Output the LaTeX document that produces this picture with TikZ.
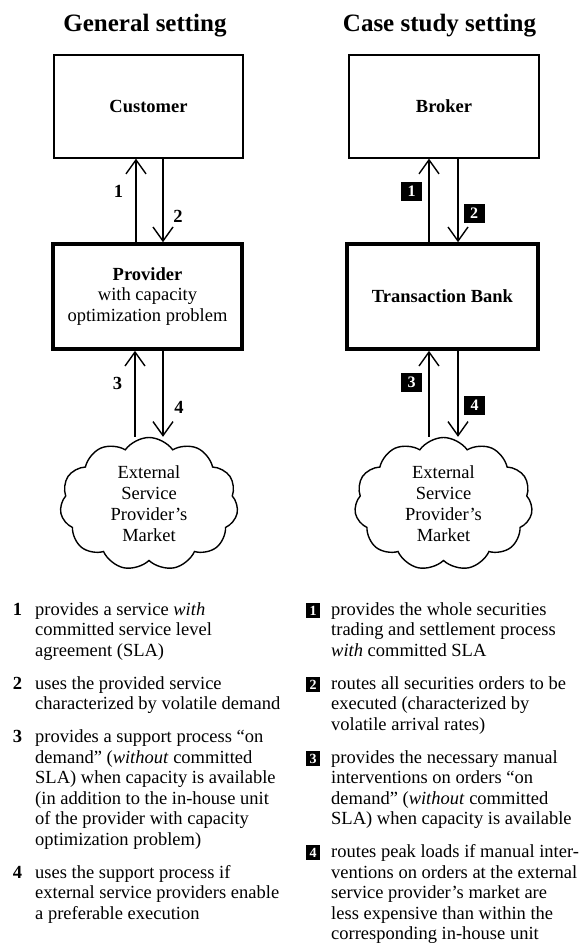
\documentclass[tikz,border=0pt]{standalone}
\usepackage{fontspec}
\setmainfont{Liberation Serif}
\usetikzlibrary{arrows.meta,shapes.symbols}
\newcommand{\bodyfont}{\fontsize{18.5}{20.5}\selectfont}
\newcommand{\headfont}{\fontsize{25}{30}\selectfont\bfseries}

\begin{document}
\begin{tikzpicture}[x=1pt,y=-1pt,
  unitbox/.style={draw,line width=1.3pt,inner sep=0pt,align=center,font=\bodyfont},
  focusbox/.style={unitbox,line width=3.6pt},
  market/.style={draw,line width=1.4pt,cloud,cloud puffs=11,cloud puff arc=110,aspect=1.35,
    minimum width=178pt,minimum height=133pt,inner sep=0pt,align=center,
    font=\fontsize{18.5}{21}\selectfont},
  flow/.style={line width=1.4pt,-{Straight Barb[length=14pt,width=20pt]}},
  num/.style={font=\bodyfont\bfseries,inner sep=0pt},
  tag/.style={fill=black,text=white,font=\fontsize{16}{16}\selectfont\bfseries,
    inner sep=0pt,minimum width=21pt,minimum height=19pt},
  smalltag/.style={tag,font=\fontsize{14}{14}\selectfont\bfseries,minimum width=14pt,minimum height=15pt},
  legtext/.style={anchor=base west,align=left,inner sep=0pt,font=\bodyfont}]
%\draw[help lines] (0,0) grid[step=50] (585,951);
\useasboundingbox (0,0) rectangle (585,951);

\node[font=\headfont,anchor=base] (headL) at (145,31) {General setting};
\node[font=\headfont,anchor=base] (headR) at (439.5,31) {Case study setting};

% general setting
\node[unitbox,minimum width=189pt,minimum height=103pt] (cust) at (148.5,106.5) {\textbf{Customer}};
\node[focusbox,minimum width=189pt,minimum height=105pt] (prov) at (147.5,296.5)
  {\textbf{Provider}\\with capacity\\optimization problem};
\node[market] (mktL) at (149,504) {External\\Service\\Provider’s\\Market};
\draw[flow] (prov.north -| 136,0) -- (cust.south -| 136,0);
\draw[flow] (cust.south -| 163,0) -- (prov.north -| 163,0);
\draw[flow] (mktL.north -| 135,0) -- (prov.south -| 135,0);
\draw[flow] (prov.south -| 163,0) -- (mktL.north -| 163,0);
\node[num] (lab1L) at (118.5,191) {1};
\node[num] (lab2L) at (178,216) {2};
\node[num] (lab3L) at (117.5,383.5) {3};
\node[num] (lab4L) at (179,407.5) {4};

% case study setting
\node[unitbox,minimum width=190pt,minimum height=103pt] (broker) at (444,106.5) {\textbf{Broker}};
\node[focusbox,minimum width=191pt,minimum height=105pt] (bank) at (442.5,296.5) {\textbf{Transaction Bank}};
\node[market] (mktR) at (443.5,504) {External\\Service\\Provider’s\\Market};
\draw[flow] (bank.north -| 429,0) -- (broker.south -| 429,0);
\draw[flow] (broker.south -| 458,0) -- (bank.north -| 458,0);
\draw[flow] (mktR.north -| 429,0) -- (bank.south -| 429,0);
\draw[flow] (bank.south -| 458,0) -- (mktR.north -| 458,0);
\node[tag] (lab1R) at (411.5,191) {1};
\node[tag] (lab2R) at (474,213) {2};
\node[tag] (lab3R) at (411.5,382.5) {3};
\node[tag] (lab4R) at (474.5,405.5) {4};

% legend (text nodes sit on their last line)
\node[num,anchor=base] (key1L) at (17.5,615) {1};
\node[legtext] (txt1L) at (35,656) {provides a service \emph{with}\\committed service level\\agreement (SLA)};
\node[num,anchor=base] (key2L) at (17.5,689) {2};
\node[legtext] (txt2L) at (35,709.5) {uses the provided service\\characterized by volatile demand};
\node[num,anchor=base] (key3L) at (17.5,742.5) {3};
\node[legtext] (txt3L) at (35,845) {provides a support process “on\\demand” (\emph{without} committed\\SLA) when capacity is available\\(in addition to the in-house unit\\of the provider with capacity\\optimization problem)};
\node[num,anchor=base] (key4L) at (17.5,878) {4};
\node[legtext] (txt4L) at (35,919) {uses the support process if\\external service providers enable\\a preferable execution};

\node[smalltag,anchor=base] (key1R) at (313,615) {1};
\node[legtext] (txt1R) at (331,656) {provides the whole securities\\trading and settlement process\\\emph{with} committed SLA};
\node[smalltag,anchor=base] (key2R) at (313,689) {2};
\node[legtext] (txt2R) at (331,730) {routes all securities orders to be\\executed (characterized by\\volatile arrival rates)};
\node[smalltag,anchor=base] (key3R) at (313,763) {3};
\node[legtext] (txt3R) at (331,824.5) {provides the necessary manual\\interventions on orders “on\\demand” (\emph{without} committed\\SLA) when capacity is available};
\node[smalltag,anchor=base] (key4R) at (313,857.5) {4};
\node[legtext] (txt4R) at (331,939.5) {routes peak loads if manual inter-\\ventions on orders at the external\\service provider’s market are\\less expensive than within the\\corresponding in-house unit};
\end{tikzpicture}
\end{document}
